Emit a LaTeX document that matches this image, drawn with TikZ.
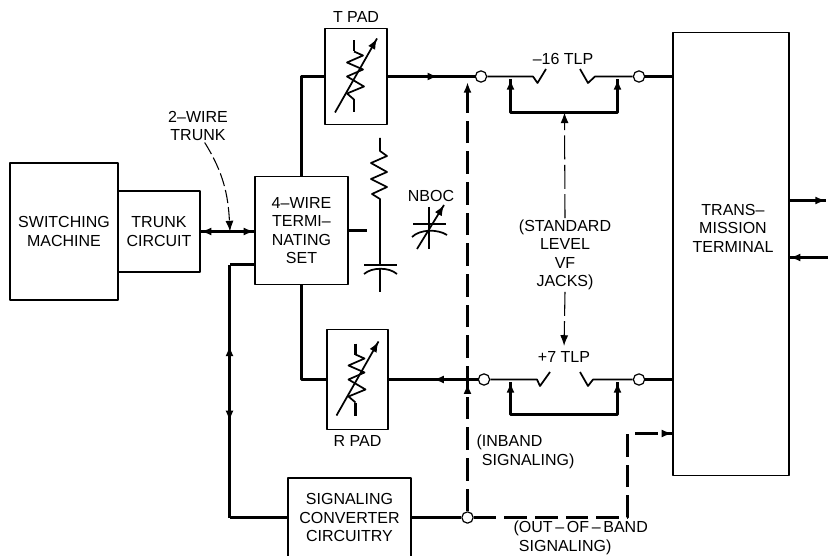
\documentclass[tikz,border=0pt]{standalone}
\usepackage{fontspec}
\setmainfont{Liberation Sans}
\usetikzlibrary{arrows.meta,positioning,calc,decorations.markings}

\begin{document}
\begin{tikzpicture}[
    x=0.75pt, y=-0.75pt,
    >={Latex[length=8pt,width=6pt]},
    line join=round,
    txt/.style={font=\fontsize{12}{13.9}\selectfont, align=center, inner sep=1pt},
    box/.style={rectangle, draw, line width=1.1pt, txt},
    jack/.style={circle, draw, fill=white, line width=0.9pt, inner sep=0pt, minimum size=8.5pt},
    wire/.style={line width=2.2pt},
    thinwire/.style={line width=1.3pt},
    sigwire/.style={line width=2.2pt, dash pattern=on 17pt off 6pt},
    leader/.style={line width=0.8pt, dash pattern=on 18pt off 4pt},
    tipat/.style={postaction={decorate}, decoration={markings, mark=at position #1 with {\arrow{>}}}},
    tipback/.style={postaction={decorate}, decoration={markings, mark=at position #1 with {\arrowreversed{>}}}},
    tipboth/.style 2 args={postaction={decorate}, decoration={markings, mark=at position #1 with {\arrowreversed{>}}, mark=at position #2 with {\arrow{>}}}},
    tiptwo/.style 2 args={postaction={decorate}, decoration={markings, mark=at position #1 with {\arrow{>}}, mark=at position #2 with {\arrow{>}}}}
]
    \useasboundingbox (0,0) rectangle (828,556);
    \clip (0,0) rectangle (828,556);

    % Boxes
    \node[box, minimum width=81pt, minimum height=102.75pt] (switch) at (64,231.5) {SWITCHING\\MACHINE};
    \node[box, minimum width=61.5pt, minimum height=60.75pt] (trunkc) at (159,231.5) {TRUNK\\CIRCUIT};
    \node[box, minimum width=69.75pt, minimum height=81pt] (fourwire) at (301.5,230.5) {4--WIRE\\TERMI--\\NATING\\SET};
    \node[box, minimum width=46.5pt, minimum height=72pt] (tpad) at (356,76.5) {};
    \node[box, minimum width=45.75pt, minimum height=75pt] (rpad) at (357.5,379.5) {};
    \node[box, minimum width=92.25pt, minimum height=59.25pt] (sigconv) at (349.5,517.5) {SIGNALING\\CONVERTER\\CIRCUITRY};
    \node[box, minimum width=87pt, minimum height=332.6pt] (term) at (731,254) {};
    \node[txt] (termtext) at (733,228) {TRANS--\\MISSION\\TERMINAL};

    % Labels
    \node[txt, above=3pt of tpad] (tlabel) {T PAD};
    \node[txt, below=2.5pt of rpad] (rlabel) {R PAD};
    \node[txt] (trunklabel) at (198,126) {2--WIRE\\TRUNK};
    \node[txt] (nboclabel) at (431,196) {NBOC};
    \node[txt] (ttlp) at (563,59) {--16 TLP};
    \node[txt] (rtlp) at (564,357) {+7 TLP};
    \node[txt] (levellabel) at (565,255) {(STANDARD\\LEVEL\\VF\\JACKS)};
    \node[txt, align=left, anchor=west] (inband) at (475,452) {(INBAND\\\hspace{4pt}SIGNALING)};
    \node[txt, align=left, anchor=west] (outband) at (512,538) {(OUT\,--\,OF\,--\,BAND\\\hspace{4pt}SIGNALING)};

    % Jacks
    \node[jack] (tjack1) at (481,76.5) {};
    \node[jack] (tjack2) at (639,76.5) {};
    \node[jack] (rjack1) at (484,379.5) {};
    \node[jack] (rjack2) at (639,379.5) {};
    \node[jack] (sigjack) at (467.5,517.5) {};

    % Bend points
    \coordinate (twotap) at (230,231.5);
    \coordinate (ttap) at (467.5,82);
    \coordinate (sigtop) at (229.5,264.5);
    \coordinate (sigbot) at (229.5,517.5);
    \coordinate (tleft) at (510.5,79);
    \coordinate (tright) at (617.5,79);
    \coordinate (tmid) at (564.5,112.5);
    \coordinate (rleft) at (510.5,382);
    \coordinate (rright) at (617.5,382);
    \coordinate (rmid) at (564.5,414.5);
    \coordinate (outtop) at (627.5,433.5);
    \coordinate (stub) at (367,230.5);
    \coordinate (outarrow) at (826,200.5);
    \coordinate (inarrow) at (828,257.5);

    % Trunk
    \draw[wire, tipboth={0}{1}] (trunkc.east |- twotap) -- (fourwire.west |- twotap);
    \draw[leader, dash pattern=on 10pt off 3pt, ->] ([xshift=5pt]trunklabel.south) to[out=-58, in=93] (twotap);

    % 4-wire legs
    \draw[wire] (tpad.west) -| (fourwire.north);
    \draw[wire] (fourwire.south) |- (rpad.west);
    \draw[wire] (fourwire.east) -- (stub);

    % Transmit and receive lines
    \draw[wire, tipat=0.58] (tpad.east |- tjack1) -- (tjack1.west);
    \draw[wire, tipback=0.5] (rpad.east |- rjack1) -- (rjack1.west);
    \draw[thinwire] (tjack1.east) -- (533,76.5) -- (537.5,83) -- (546,69);
    \draw[thinwire] (tjack2.west) -- (595,76.5) -- (588,83) -- (580,69);
    \draw[thinwire] (rjack1.east) -- (537,379.5) -- (540,386) -- (550,372);
    \draw[thinwire] (rjack2.west) -- (593,379.5) -- (588,386) -- (580,372);
    \draw[wire] (tjack2.east) -- (term.west |- tjack2);
    \draw[wire] (rjack2.east) -- (term.west |- rjack2);

    % Jack brackets
    \draw[wire, tipboth={0}{1}] (tleft) |- (tmid) -| (tright);
    \draw[wire, tipboth={0}{1}] (rleft) |- (rmid) -| (rright);

    % Level pointers
    \draw[leader, ->] (levellabel.north) -- (tmid);
    \draw[leader, ->, shorten >=3pt] (levellabel.south) -- (rtlp.north);

    % Signaling
    \draw[wire] (sigtop -| fourwire.west) -- (sigtop);
    \draw[wire, tipboth={0.32}{0.62}] (sigtop) -- (sigbot);
    \draw[wire] (sigbot) -- (sigconv.west);
    \draw[wire] (sigconv.east) -- (sigjack.west);
    \draw[sigwire, tiptwo={0.298}{1}] (sigjack.north) -- (ttap);
    \draw[sigwire, tipat=1] (sigjack.east) -| (outtop) -- (term.west |- outtop);

    % Terminal outputs
    \draw[wire, tipat=1] (term.east |- outarrow) -- (outarrow);
    \draw[wire, tipat=1] (inarrow) -- (term.east |- inarrow);

    % Pad symbols
    \foreach \pad in {tpad,rpad}{
        \begin{scope}[shift={(\pad.center)}]
            \draw[line width=2pt] (-2,-36) -- (-2,-25);
            \draw[line width=2pt] (-2,23) -- (-2,36);
            \draw[thinwire] (-2,-25) -- (7,-21) -- (-9,-14) -- (7,-7) -- (-9,0) -- (8,10) -- (-9,17) -- (-2,23);
            \draw[thinwire, tipat=1] (-21,36) -- (21,-38);
        \end{scope}
    }

    % Line build-out
    \draw[thinwire] (380,138) -- (380,151) -- (387,156) -- (371,163) -- (387,172) -- (371,179) -- (387,187) -- (372,194) -- (380,199) -- (380,265);
    \draw[thinwire] (364,265) -- (397,265);
    \draw[thinwire] (364,274) .. controls (372,267) and (389,267) .. (397,274);
    \draw[thinwire] (380,269) -- (380,292);

    % NBOC capacitor
    \draw[line width=1.8pt] (429,207) -- (429,249);
    \draw[thinwire] (413,224) -- (446,224);
    \draw[thinwire] (412,237) .. controls (420,229) and (438,229) .. (447,235);
    \draw[thinwire, tipat=1] (417,249) -- (444,205);
\end{tikzpicture}
\end{document}
